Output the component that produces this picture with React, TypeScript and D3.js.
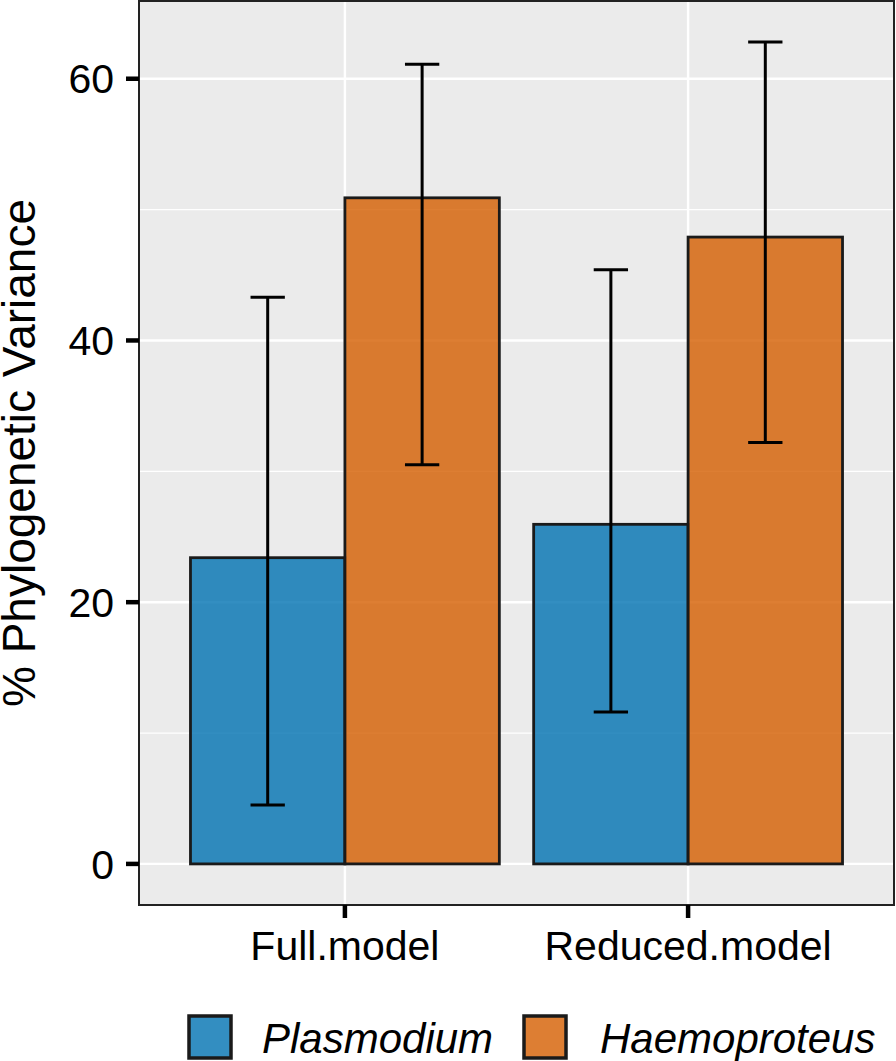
import React from "react";
import * as d3 from "d3";

const categories = ["Full.model", "Reduced.model"];
const groups = ["Plasmodium", "Haemoproteus"];
const plasmodiumMean = [23.4, 25.95];
const plasmodiumLow = [4.5, 11.6];
const plasmodiumHigh = [43.3, 45.4];
const haemoproteusMean = [50.9, 47.9];
const haemoproteusLow = [30.5, 32.2];
const haemoproteusHigh = [61.1, 62.8];
const yTicks = [0, 20, 40, 60];
const yMinor = [10, 30, 50];
const colors = ["#0072B2", "#D55E00"];

const W = 896;
const H = 1061;
const panel = { left: 139, right: 894, top: 1, bottom: 905 };
const FONT = "Liberation Sans, Arial, Helvetica, sans-serif";

export default function App() {
  const series = [
    { name: groups[0], mean: plasmodiumMean, low: plasmodiumLow, high: plasmodiumHigh, color: colors[0] },
    { name: groups[1], mean: haemoproteusMean, low: haemoproteusLow, high: haemoproteusHigh, color: colors[1] },
  ];
  const allVals = [0, ...plasmodiumHigh, ...haemoproteusHigh, ...plasmodiumLow, ...haemoproteusLow];
  const lo = d3.min(allVals) as number;
  const hi = d3.max(allVals) as number;
  const pad = (hi - lo) * 0.05;
  const y = d3.scaleLinear().domain([lo - pad, hi + pad]).range([panel.bottom, panel.top]);
  const x = d3.scaleLinear().domain([0.4, categories.length + 0.6]).range([panel.left, panel.right]);
  const dodge = 0.45;
  const capHalf = 0.05;

  return (
    <svg width={W} height={H} style={{ position: "absolute", left: 0, top: 0, background: "#fff" }} fontFamily={FONT}>
      <rect x={panel.left} y={panel.top} width={panel.right - panel.left} height={panel.bottom - panel.top} fill="#EBEBEB" />
      {yMinor.map((t) => (
        <line key={"mn" + t} x1={panel.left} x2={panel.right} y1={y(t)} y2={y(t)} stroke="#fff" strokeWidth={1.2} />
      ))}
      {yTicks.map((t) => (
        <line key={"mj" + t} x1={panel.left} x2={panel.right} y1={y(t)} y2={y(t)} stroke="#fff" strokeWidth={2.4} />
      ))}
      {categories.map((c, i) => (
        <line key={"vx" + c} x1={x(i + 1)} x2={x(i + 1)} y1={panel.top} y2={panel.bottom} stroke="#fff" strokeWidth={2.4} />
      ))}
      {series.map((s, si) =>
        categories.map((c, i) => {
          const cx = i + 1 + (si === 0 ? -dodge / 2 : dodge / 2);
          const x0 = x(cx - dodge / 2);
          const x1 = x(cx + dodge / 2);
          return (
            <rect
              key={s.name + c}
              x={x0}
              y={y(s.mean[i])}
              width={x1 - x0}
              height={y(0) - y(s.mean[i])}
              fill={s.color}
              fillOpacity={0.8}
              stroke="#1a1a1a"
              strokeWidth={2.8}
            />
          );
        })
      )}
      {series.map((s, si) =>
        categories.map((c, i) => {
          const cx = i + 1 + (si === 0 ? -dodge / 2 : dodge / 2);
          return (
            <g key={"e" + s.name + c} stroke="#000" strokeWidth={3}>
              <line x1={x(cx)} x2={x(cx)} y1={y(s.low[i])} y2={y(s.high[i])} />
              <line x1={x(cx - capHalf)} x2={x(cx + capHalf)} y1={y(s.low[i])} y2={y(s.low[i])} />
              <line x1={x(cx - capHalf)} x2={x(cx + capHalf)} y1={y(s.high[i])} y2={y(s.high[i])} />
            </g>
          );
        })
      )}
      <rect x={panel.left} y={panel.top} width={panel.right - panel.left} height={panel.bottom - panel.top} fill="none" stroke="#222" strokeWidth={2} />
      {yTicks.map((t) => (
        <g key={"yt" + t}>
          <line x1={panel.left - 13} x2={panel.left} y1={y(t)} y2={y(t)} stroke="#000" strokeWidth={4.5} />
          <text x={114} y={y(t)} dy="0.36em" textAnchor="end" fontSize={41} fill="#000">
            {t}
          </text>
        </g>
      ))}
      {categories.map((c, i) => (
        <g key={"xt" + c}>
          <line x1={x(i + 1)} x2={x(i + 1)} y1={panel.bottom} y2={panel.bottom + 13} stroke="#000" strokeWidth={4.5} />
          <text x={x(i + 1)} y={960} textAnchor="middle" fontSize={41} fill="#000">
            {c}
          </text>
        </g>
      ))}
      <text
        transform={`translate(35, ${(panel.top + panel.bottom) / 2}) rotate(-90)`}
        textAnchor="middle"
        fontSize={46}
        fill="#000"
      >
        % Phylogenetic Variance
      </text>
      {series.map((s, si) => {
        const kx = si === 0 ? 187 : 522;
        const tx = si === 0 ? 262 : 600;
        return (
          <g key={"lg" + s.name}>
            <rect x={kx + 2} y={1016} width={42} height={42} fill="#fff" />
            <rect x={kx + 2} y={1016} width={42} height={42} fill={s.color} fillOpacity={0.8} stroke="#1a1a1a" strokeWidth={3.5} />
            <text x={tx} y={1053} fontSize={42} fontStyle="italic" fill="#000">
              {s.name}
            </text>
          </g>
        );
      })}
    </svg>
  );
}
